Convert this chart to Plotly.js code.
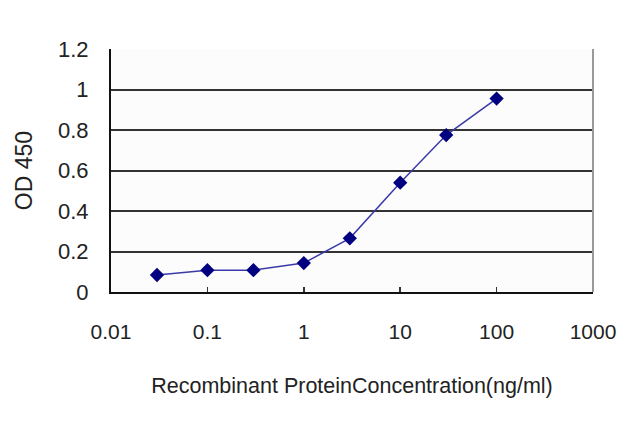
<!DOCTYPE html>
<html>
<head>
<meta charset="utf-8">
<script src="https://cdn.plot.ly/plotly-3.0.1.min.js"></script>
<style>html,body{margin:0;padding:0;background:#fff;}#chart{width:640px;height:427px;}</style>
</head>
<body>
<div id="chart"></div>
<script>
const concentration = [0.03, 0.1, 0.3, 1, 3, 10, 30, 100];
const od450 = [0.084, 0.108, 0.108, 0.143, 0.265, 0.54, 0.775, 0.955];
const xTickVals = [0.01, 0.1, 1, 10, 100, 1000];
const xTickText = ["0.01", "0.1", "1", "10", "100", "1000"];
const yTickVals = [0, 0.2, 0.4, 0.6, 0.8, 1, 1.2];
const yTickText = ["0", "0.2", "0.4", "0.6", "0.8", "1", "1.2"];

const font = "Liberation Sans, Arial, sans-serif";

Plotly.newPlot("chart", [{
  x: concentration,
  y: od450,
  type: "scatter",
  mode: "lines+markers",
  line: {color: "#3a3aa8", width: 1.5},
  marker: {symbol: "diamond", size: 11, color: "#000080"},
  showlegend: false
}], {
  width: 640, height: 427,
  margin: {l: 111, r: 47, t: 49, b: 135},
  paper_bgcolor: "#ffffff",
  plot_bgcolor: "#fcfcfc",
  font: {family: font, color: "#222"},
  xaxis: {
    type: "log", range: [-2, 3],
    tickvals: xTickVals, ticktext: xTickText,
    tickfont: {size: 21, color: "#222"},
    ticks: "inside", ticklen: 5, tickwidth: 1.5, tickcolor: "#333",
    ticklabelstandoff: 20,
    showline: true, linecolor: "#111", linewidth: 2,
    showgrid: false, zeroline: false,
    title: {text: "Recombinant ProteinConcentration(ng/ml)", font: {size: 21.5, color: "#222"}, standoff: 36}
  },
  yaxis: {
    range: [0, 1.2],
    tickvals: yTickVals, ticktext: yTickText,
    tickfont: {size: 22, color: "#222"},
    ticks: "", ticklabelstandoff: 16,
    showline: true, linecolor: "#111", linewidth: 2,
    showgrid: true, gridcolor: "#333", gridwidth: 2,
    zeroline: false,
    title: {text: "OD 450", font: {size: 23, color: "#222"}, standoff: 19}
  },
  shapes: [
    {type: "line", xref: "paper", yref: "paper", x0: 1, x1: 1, y0: 0, y1: 1, line: {color: "#999", width: 2}}
  ]
}, {displayModeBar: false, staticPlot: true});
</script>
</body>
</html>
